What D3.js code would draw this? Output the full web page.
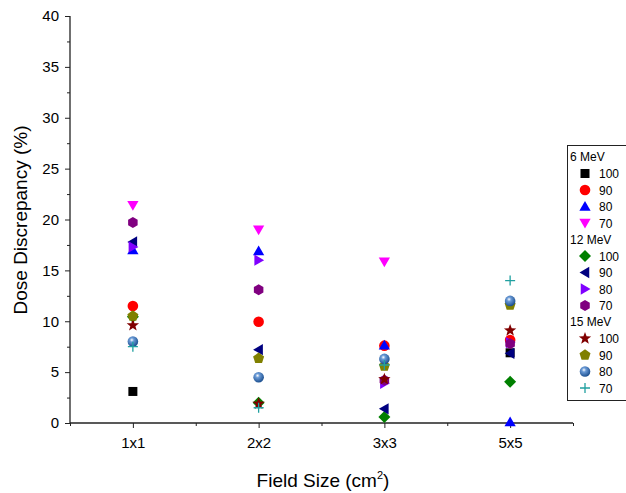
<!DOCTYPE html>
<html><head><meta charset="utf-8">
<script src="https://cdn.jsdelivr.net/npm/d3@7"></script>
<style>body{margin:0;background:#fff}svg{display:block;font-family:Arial,"Liberation Sans",sans-serif}</style>
</head><body><svg id="c" width="626" height="493"></svg>
<script>
const categories = ["1x1","2x2","3x3","5x5"];
const yTicks = [0,5,10,15,20,25,30,35,40];
const groups = ["6 MeV","12 MeV","15 MeV"];
const seriesNames = ["100","90","80","70"];
// values per category [1x1, 2x2, 3x3, 5x5]; null = not shown
const e6_100 = [3.1, null, null, 6.9];
const e6_90  = [11.5, 9.95, 7.6, 8.15];
const e6_80  = [17.0, 16.9, 7.65, 0.1];
const e6_70  = [21.4, 19.0, 15.85, null];
const e12_100 = [10.45, 2.0, 0.6, 4.05];
const e12_90  = [17.8, 7.2, 1.4, 6.85];
const e12_80  = [17.3, 16.0, 3.9, 7.9];
const e12_70  = [19.7, 13.1, 4.2, 7.8];
const e15_100 = [9.6, 1.9, 4.3, 9.1];
const e15_90  = [10.5, 6.35, 5.6, 11.6];
const e15_80  = [8.0, 4.5, 6.3, 12.0];
const e15_70  = [7.5, 1.5, 5.7, 14.0];

const series = [
  {g:0,name:"100",vals:e6_100,shape:"square",color:"#000000"},
  {g:0,name:"90",vals:e6_90,shape:"circle",color:"#ff0000"},
  {g:0,name:"80",vals:e6_80,shape:"triUp",color:"#0000ff"},
  {g:0,name:"70",vals:e6_70,shape:"triDown",color:"#ff00ff"},
  {g:1,name:"100",vals:e12_100,shape:"diamond",color:"#008000"},
  {g:1,name:"90",vals:e12_90,shape:"triLeft",color:"#000080"},
  {g:1,name:"80",vals:e12_80,shape:"triRight",color:"#8000ff"},
  {g:1,name:"70",vals:e12_70,shape:"hexagon",color:"#800080"},
  {g:2,name:"100",vals:e15_100,shape:"star",color:"#800000"},
  {g:2,name:"90",vals:e15_90,shape:"pentagon",color:"#808000"},
  {g:2,name:"80",vals:e15_80,shape:"sphere",color:"#3a6fb0"},
  {g:2,name:"70",vals:e15_70,shape:"plus",color:"#20a0a0"}
];

const svg = d3.select("#c");
const defs = svg.append("defs");
const grad = defs.append("radialGradient").attr("id","sph").attr("cx","40%").attr("cy","35%").attr("r","65%");
grad.append("stop").attr("offset","0%").attr("stop-color","#ffffff");
grad.append("stop").attr("offset","30%").attr("stop-color","#6a9ad6");
grad.append("stop").attr("offset","100%").attr("stop-color","#1c4f8f");

const x = d3.scaleLinear().domain([0.5,4.5]).range([70,573]);
const y = d3.scaleLinear().domain([0,40]).range([423,16]);

function poly(n, r, rot){
  const pts=[];
  for(let i=0;i<n;i++){const a=rot+i*2*Math.PI/n;pts.push([r*Math.cos(a),r*Math.sin(a)]);}
  return "M"+pts.map(p=>p[0].toFixed(2)+","+p[1].toFixed(2)).join("L")+"Z";
}
function star(r1,r2){
  const pts=[];
  for(let i=0;i<10;i++){const a=-Math.PI/2+i*Math.PI/5;const r=i%2?r2:r1;pts.push([r*Math.cos(a),r*Math.sin(a)]);}
  return "M"+pts.map(p=>p[0].toFixed(2)+","+p[1].toFixed(2)).join("L")+"Z";
}
function drawMarker(sel, s, cx, cy){
  const g = sel.append("g").attr("transform",`translate(${cx},${cy})`);
  switch(s.shape){
    case "square": g.append("rect").attr("x",-4.5).attr("y",-4.5).attr("width",9).attr("height",9).attr("fill",s.color); break;
    case "circle": g.append("circle").attr("r",5.3).attr("fill",s.color); break;
    case "triUp": g.append("path").attr("d",poly(3,6.5,-Math.PI/2)).attr("transform","translate(0,1)").attr("fill",s.color); break;
    case "triDown": g.append("path").attr("d",poly(3,6.5,Math.PI/2)).attr("transform","translate(0,-1)").attr("fill",s.color); break;
    case "triLeft": g.append("path").attr("d",poly(3,6.5,Math.PI)).attr("transform","translate(1,0)").attr("fill",s.color); break;
    case "triRight": g.append("path").attr("d",poly(3,6.5,0)).attr("transform","translate(-1,0)").attr("fill",s.color); break;
    case "diamond": g.append("path").attr("d",poly(4,6,0)).attr("fill",s.color); break;
    case "hexagon": g.append("path").attr("d",poly(6,5.5,-Math.PI/2)).attr("fill",s.color); break;
    case "star": g.append("path").attr("d",star(6.5,2.7)).attr("fill",s.color); break;
    case "pentagon": g.append("path").attr("d",poly(5,5.8,-Math.PI/2)).attr("fill",s.color); break;
    case "sphere": g.append("circle").attr("r",5.3).attr("fill","url(#sph)"); break;
    case "plus": g.append("path").attr("d","M-5,0H5M0,-5V5").attr("stroke",s.color).attr("stroke-width",1.3).attr("fill","none"); break;
  }
}

// axes
const yAxis = d3.axisLeft(y).tickValues(yTicks).tickSize(5).tickPadding(6);
const yg = svg.append("g").attr("transform","translate(70,0)").call(yAxis);
yg.selectAll("text").attr("font-size",15).attr("fill","#000").attr("font-family","Arial,'Liberation Sans',sans-serif");
svg.append("g").attr("transform","translate(70,0)")
  .call(d3.axisLeft(y).tickValues(d3.range(2.5,40,5)).tickSize(3).tickFormat(""))
  .select(".domain").remove();

const xAxis = d3.axisBottom(x).tickValues([1,2,3,4]).tickFormat((d,i)=>categories[i]).tickSize(5).tickPadding(9);
const xg = svg.append("g").attr("transform","translate(0,423)").call(xAxis);
xg.selectAll("text").attr("font-size",15).attr("fill","#000").attr("font-family","Arial,'Liberation Sans',sans-serif");
svg.append("g").attr("transform","translate(0,423)")
  .call(d3.axisBottom(x).tickValues([0.5,1.5,2.5,3.5,4.5]).tickSize(3).tickFormat(""))
  .select(".domain").remove();
svg.selectAll(".domain").attr("stroke","#222").attr("stroke-width",1.3);
svg.selectAll(".tick line").attr("stroke","#222").attr("stroke-width",1);
xg.select(".domain").attr("d","M70,0H573");
yg.select(".domain").attr("d","M0,16V423");

// titles
svg.append("text").attr("transform","translate(27,220) rotate(-90)").attr("text-anchor","middle")
  .attr("font-size",19).attr("fill","#000").text("Dose Discrepancy (%)");
const xt = svg.append("text").attr("x",323).attr("y",487).attr("text-anchor","middle").attr("font-size",19).attr("fill","#000");
xt.append("tspan").text("Field Size (cm");
xt.append("tspan").attr("dy",-8).attr("font-size",11).text("2");
xt.append("tspan").attr("dy",8).text(")");

// points
const plot = svg.append("g");
series.forEach(s=>{
  s.vals.forEach((v,i)=>{ if(v!==null) drawMarker(plot, s, x(i+1), y(v)); });
});

// legend
const lg = svg.append("g");
lg.append("rect").attr("x",567.5).attr("y",145.5).attr("width",70).attr("height",255).attr("fill","#fff").attr("stroke","#222").attr("stroke-width",1);
let ly = 157;
groups.forEach((gname,gi)=>{
  lg.append("text").attr("x",570).attr("y",ly+4).attr("font-size",12).attr("fill","#000").text(gname);
  ly += 16.5;
  series.filter(s=>s.g===gi).forEach(s=>{
    drawMarker(lg, s, 585, ly);
    lg.append("text").attr("x",599).attr("y",ly+4.5).attr("font-size",12).attr("fill","#000").text(s.name);
    ly += 16.5;
  });
});
</script></body></html>
